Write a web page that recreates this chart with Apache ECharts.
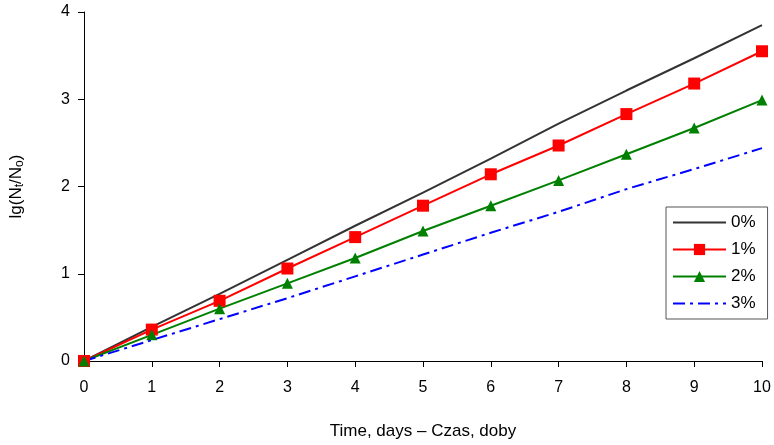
<!DOCTYPE html>
<html><head><meta charset="utf-8">
<script src="https://cdn.jsdelivr.net/npm/echarts@6/dist/echarts.min.js"></script>
<style>html,body{margin:0;padding:0;background:#fff}#c{width:774px;height:445px}</style>
</head><body><div id="c"></div>
<script>
const days = [0,1,2,3,4,5,6,7,8,9,10];
const s0 = [0,0.39,0.77,1.16,1.55,1.93,2.32,2.72,3.10,3.47,3.85];
const s1 = [0,0.36,0.69,1.06,1.42,1.78,2.14,2.47,2.83,3.18,3.55];
const s2 = [0,0.30,0.60,0.89,1.18,1.49,1.78,2.07,2.37,2.67,2.99];
const s3 = [0,0.24,0.48,0.72,0.97,1.22,1.47,1.71,1.97,2.20,2.44];
const names = ['0%','1%','2%','3%'];
const pair = a => a.map((v,i)=>[days[i],v]);
const font = 'Liberation Sans, Arial, sans-serif';
const chart = echarts.init(document.getElementById('c'));
chart.setOption({
  animation:false,
  textStyle:{fontFamily:font},
  grid:{left:84,right:12,top:12,bottom:81},
  xAxis:{type:'value',min:0,max:10,interval:1,
    name:'Time, days – Czas, doby',nameLocation:'middle',nameGap:62,
    nameTextStyle:{fontSize:17,color:'#000',fontFamily:font},
    axisLine:{lineStyle:{color:'#000',width:1}},
    axisTick:{show:true,inside:false,length:6,lineStyle:{color:'#000'}},
    axisLabel:{fontSize:16,color:'#000',margin:19,fontFamily:font},
    splitLine:{show:false}},
  yAxis:{type:'value',min:0,max:4,interval:1,
    name:'{a|lg(N}{s|t}{a|/N}{s|o}{a|)}',nameLocation:'middle',nameGap:58,nameRotate:90,
    nameTextStyle:{color:'#000',fontFamily:font,rich:{
      a:{fontSize:17,color:'#000',fontFamily:font},
      s:{fontSize:12,color:'#000',fontFamily:font,padding:[7,0,0,0]}}},
    axisLine:{show:true,lineStyle:{color:'#000',width:1}},
    axisTick:{show:true,inside:false,length:6,lineStyle:{color:'#000'}},
    axisLabel:{fontSize:16,color:'#000',margin:14,fontFamily:font},
    splitLine:{show:false}},
  legend:{orient:'vertical',left:666,top:207,
    padding:[7,12,7,6],itemGap:10,itemWidth:53,itemHeight:14,
    borderColor:'#555',borderWidth:1,backgroundColor:'#fff',
    textStyle:{fontSize:17,color:'#000',fontFamily:font},
    data:[
      {name:names[0],itemStyle:{opacity:0}},
      {name:names[1]},
      {name:names[2]},
      {name:names[3],itemStyle:{opacity:0}}
    ]},
  series:[
    {name:names[0],type:'line',data:pair(s0),symbol:'none',lineStyle:{color:'#333',width:2},itemStyle:{color:'#333'}},
    {name:names[1],type:'line',data:pair(s1),symbol:'rect',symbolSize:12,lineStyle:{color:'#ff0000',width:2},itemStyle:{color:'#ff0000'}},
    {name:names[2],type:'line',data:pair(s2),symbol:'triangle',symbolSize:11,lineStyle:{color:'#008000',width:2},itemStyle:{color:'#008000'}},
    {name:names[3],type:'line',data:pair(s3),symbol:'none',lineStyle:{color:'#0000ff',width:2,type:[12,5,3,5]},itemStyle:{color:'#0000ff'}}
  ]
});
</script></body></html>
